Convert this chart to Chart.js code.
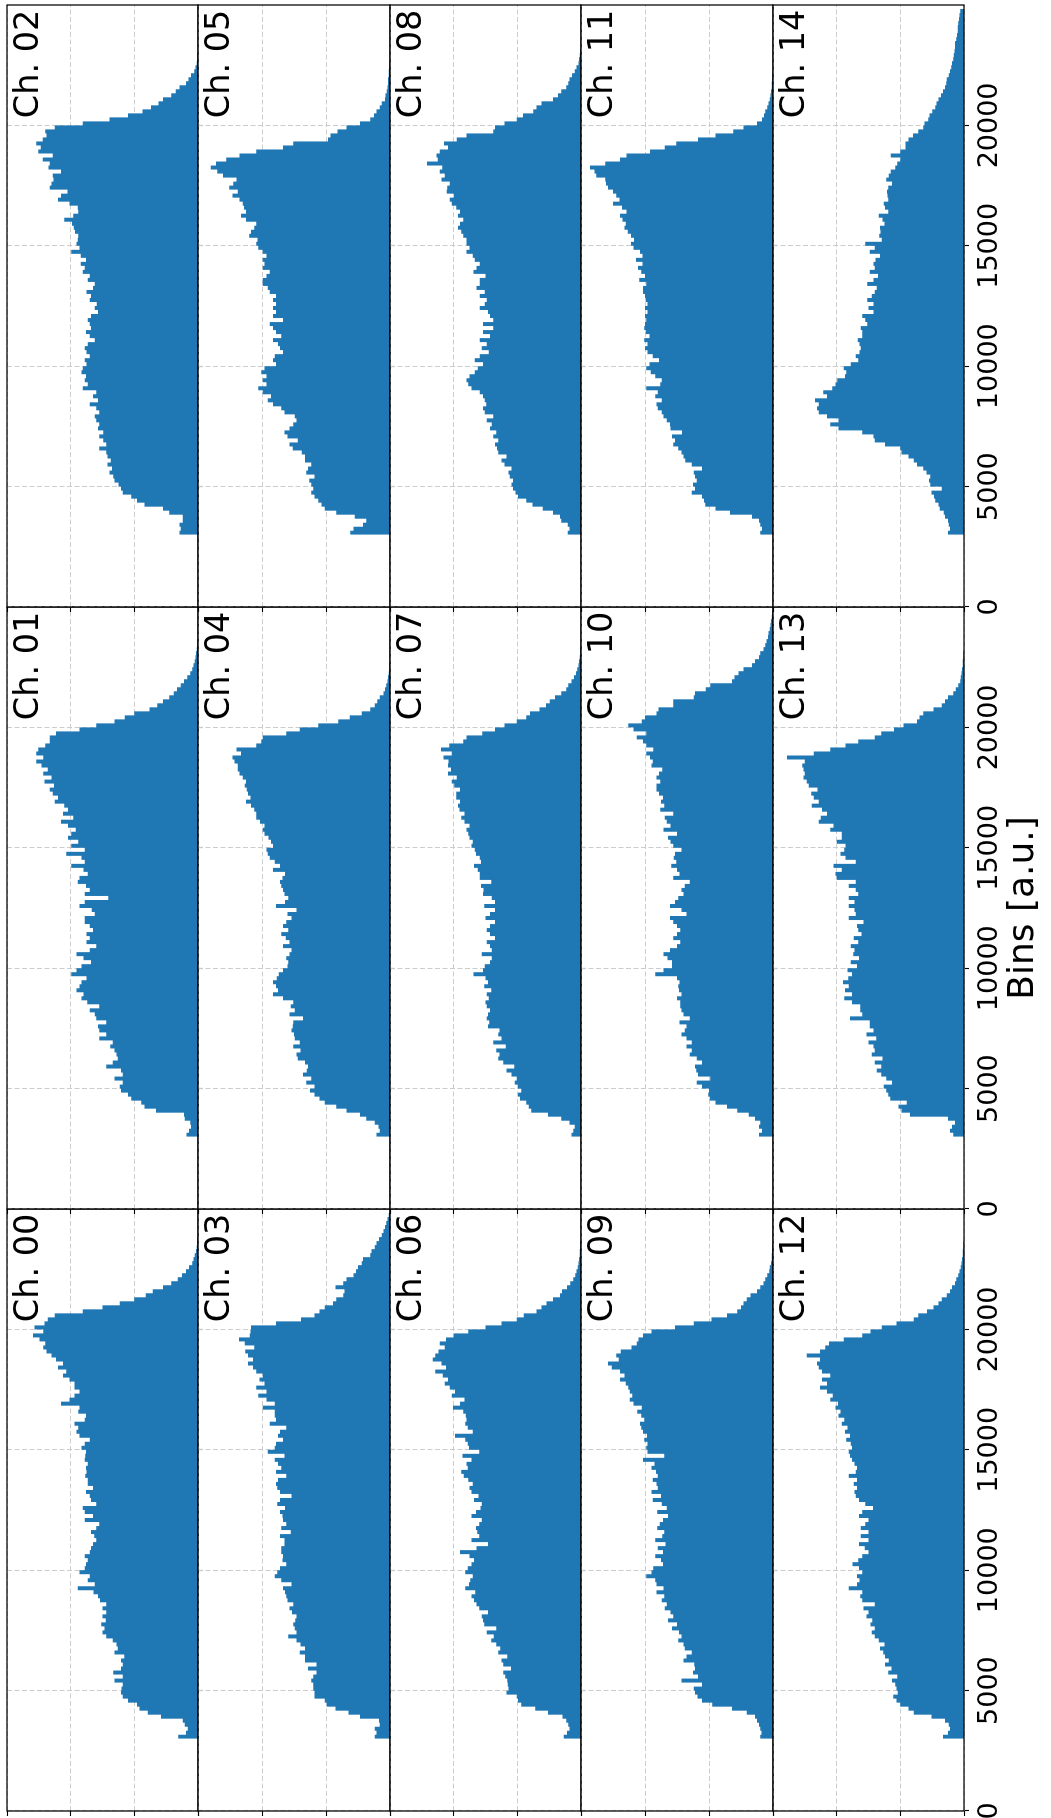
<!DOCTYPE html>
<html>
<head>
<meta charset="utf-8">
<script src="https://cdn.jsdelivr.net/npm/chart.js@4.4.1/dist/chart.umd.min.js"></script>
<style>
  html, body { margin: 0; padding: 0; background: #fff; overflow: hidden; }
  /* the figure is laid out landscape and turned a quarter turn counter-clockwise */
  #fig {
    position: absolute; left: 0; top: 0;
    width: 1818px; height: 1051px;
    transform-origin: 0 0;
    transform: translate(0, 1818px) rotate(-90deg);
  }
</style>
</head>
<body>
<div id="fig"></div>
<script>
// histogram bins: 150 bins over 0..25000, first filled bin starts at 3000
const binStart = 3000;
const binWidth = 25000 / 150;
const binTicks = [0, 5000, 10000, 15000, 20000];
const countTicks = [0, 100, 200, 300];

// counts per bin, one array per channel, starting at binStart
const ch00 = [27, 31, 19, 16, 21, 24, 58, 79, 92, 96, 110, 118,
  121, 120, 118, 131, 118, 133, 121, 118, 121, 116, 131, 126,
  128, 134, 144, 150, 147, 152, 145, 150, 144, 150, 144, 154,
  157, 164, 189, 162, 173, 170, 186, 178, 176, 173, 178, 170,
  168, 165, 160, 163, 168, 160, 155, 178, 165, 178, 181, 160,
  168, 170, 176, 165, 173, 173, 177, 175, 176, 173, 178, 177,
  176, 183, 178, 170, 186, 191, 188, 194, 178, 176, 188, 186,
  215, 202, 194, 186, 194, 194, 202, 212, 207, 220, 212, 223,
  230, 238, 243, 240, 249, 259, 243, 257, 241, 236, 225, 181,
  150, 123, 100, 82, 71, 55, 42, 32, 25, 19, 14, 9,
  7, 5, 3, 2, 1, 1, 0, 0, 0, 0, 0, 0];
const ch01 = [21, 18, 14, 11, 12, 21, 22, 66, 84, 89, 105, 110,
  121, 123, 118, 131, 118, 121, 144, 134, 126, 128, 131, 138,
  134, 155, 144, 155, 157, 144, 160, 162, 170, 155, 174, 183,
  180, 191, 186, 183, 175, 199, 191, 183, 168, 180, 191, 170,
  160, 175, 170, 175, 165, 170, 178, 178, 162, 167, 186, 178,
  141, 178, 170, 176, 189, 186, 173, 180, 199, 178, 183, 207,
  178, 199, 188, 204, 199, 192, 204, 215, 196, 212, 204, 210,
  225, 220, 228, 233, 226, 241, 230, 243, 236, 246, 254, 243,
  254, 251, 240, 233, 233, 223, 186, 160, 131, 115, 100, 76,
  64, 55, 45, 38, 33, 27, 22, 17, 12, 9, 7, 5,
  4, 3, 2, 1, 1, 0, 0, 0, 0, 0, 0, 0];
const ch02 = [32, 29, 27, 29, 24, 24, 45, 55, 84, 96, 105, 118,
  121, 125, 131, 133, 139, 135, 142, 137, 142, 144, 155, 144,
  149, 155, 149, 157, 155, 160, 162, 155, 160, 170, 157, 165,
  160, 181, 173, 178, 176, 183, 181, 175, 178, 170, 175, 178,
  173, 162, 170, 176, 168, 170, 173, 168, 157, 162, 159, 170,
  168, 175, 165, 162, 173, 170, 181, 178, 184, 176, 184, 199,
  186, 191, 189, 188, 193, 195, 198, 210, 196, 188, 189, 202,
  220, 215, 205, 233, 230, 227, 228, 215, 235, 233, 244, 228,
  251, 247, 254, 244, 238, 240, 225, 181, 139, 110, 87, 74,
  62, 55, 42, 35, 29, 19, 15, 11, 6, 4, 2, 1,
  1, 0, 0, 0, 0, 0, 0, 0, 0, 0, 0, 0];
const ch03 = [37, 24, 21, 24, 16, 17, 47, 65, 85, 99, 102, 118,
  118, 120, 120, 123, 120, 115, 128, 115, 133, 133, 141, 133,
  140, 146, 159, 146, 149, 151, 148, 146, 153, 157, 151, 160,
  162, 164, 167, 154, 170, 180, 176, 172, 162, 168, 167, 170,
  170, 165, 165, 172, 155, 170, 162, 167, 168, 172, 164, 176,
  172, 154, 172, 176, 178, 175, 162, 178, 170, 175, 180, 165,
  191, 180, 178, 167, 175, 172, 162, 188, 178, 180, 180, 199,
  180, 193, 206, 193, 209, 196, 204, 199, 209, 214, 222, 214,
  222, 226, 212, 227, 236, 219, 218, 217, 178, 139, 118, 110,
  102, 89, 84, 73, 71, 85, 73, 68, 57, 53, 50, 44,
  42, 31, 29, 24, 21, 17, 13, 10, 8, 6, 4, 2];
const ch04 = [29, 21, 16, 18, 24, 37, 47, 68, 84, 102, 110, 118,
  125, 118, 131, 123, 136, 130, 128, 133, 144, 146, 140, 151,
  141, 149, 150, 154, 152, 151, 136, 157, 149, 155, 151, 167,
  183, 175, 178, 183, 177, 174, 167, 160, 159, 162, 157, 154,
  167, 157, 163, 170, 159, 167, 162, 154, 160, 146, 178, 164,
  159, 165, 167, 170, 172, 168, 164, 183, 172, 180, 188, 191,
  193, 183, 186, 190, 196, 199, 196, 203, 209, 209, 212, 217,
  225, 218, 222, 224, 227, 225, 230, 235, 238, 238, 243, 246,
  233, 240, 209, 201, 199, 162, 141, 112, 81, 63, 44, 31,
  24, 20, 16, 10, 8, 6, 4, 3, 2, 1, 1, 0,
  0, 0, 0, 0, 0, 0, 0, 0, 0, 0, 0, 0];
const ch05 = [68, 62, 57, 42, 37, 55, 84, 102, 107, 112, 118, 123,
  120, 123, 126, 118, 131, 128, 123, 133, 133, 138, 152, 157,
  144, 160, 165, 157, 151, 146, 149, 165, 170, 183, 191, 186,
  199, 206, 193, 199, 193, 201, 196, 178, 183, 180, 167, 172,
  175, 183, 170, 178, 183, 188, 167, 183, 178, 183, 178, 183,
  178, 188, 191, 199, 199, 193, 188, 199, 196, 199, 193, 199,
  206, 209, 207, 220, 217, 212, 209, 225, 233, 225, 228, 230,
  235, 246, 238, 251, 245, 240, 261, 270, 280, 272, 256, 235,
  209, 167, 151, 97, 93, 82, 68, 47, 31, 25, 21, 16,
  13, 8, 7, 5, 4, 3, 3, 2, 2, 1, 1, 0,
  0, 0, 0, 0, 0, 0, 0, 0, 0, 0, 0, 0];
const ch06 = [29, 27, 22, 18, 20, 23, 29, 52, 72, 94, 99, 101,
  117, 114, 115, 116, 119, 122, 110, 122, 125, 116, 130, 127,
  133, 141, 137, 148, 133, 152, 154, 156, 146, 160, 164, 168,
  172, 166, 182, 176, 174, 170, 182, 178, 172, 168, 175, 190,
  164, 146, 172, 160, 163, 165, 160, 156, 172, 165, 158, 156,
  168, 161, 172, 175, 170, 177, 184, 188, 178, 180, 172, 186,
  160, 176, 178, 182, 198, 170, 178, 182, 180, 181, 185, 201,
  190, 183, 203, 198, 206, 214, 209, 217, 229, 212, 219, 233,
  229, 224, 214, 222, 212, 200, 177, 150, 125, 101, 90, 70,
  62, 54, 44, 33, 30, 22, 17, 12, 9, 7, 5, 4,
  3, 2, 2, 1, 1, 0, 0, 0, 0, 0, 0, 0];
const ch07 = [26, 15, 12, 10, 18, 31, 52, 78, 82, 86, 96, 99,
  94, 99, 104, 101, 109, 117, 105, 122, 130, 128, 133, 118,
  138, 125, 130, 128, 146, 144, 148, 146, 143, 148, 150, 145,
  148, 141, 152, 146, 150, 169, 154, 151, 143, 140, 156, 140,
  143, 148, 135, 143, 148, 143, 135, 150, 143, 135, 152, 135,
  140, 154, 153, 157, 141, 159, 159, 162, 168, 157, 159, 165,
  167, 172, 170, 175, 177, 180, 175, 183, 188, 183, 191, 193,
  190, 196, 196, 190, 199, 203, 195, 209, 204, 209, 208, 216,
  203, 220, 207, 185, 180, 155, 135, 120, 101, 86, 80, 65,
  55, 49, 41, 31, 23, 20, 15, 11, 8, 6, 4, 3,
  2, 1, 1, 0, 0, 0, 0, 0, 0, 0, 0, 0];
const ch08 = [23, 21, 18, 21, 31, 33, 44, 60, 76, 86, 99, 103,
  107, 109, 107, 112, 114, 109, 120, 125, 117, 130, 132, 135,
  130, 138, 133, 143, 140, 148, 138, 151, 154, 149, 151, 154,
  159, 172, 177, 180, 175, 167, 162, 154, 167, 159, 145, 156,
  148, 159, 143, 154, 138, 154, 138, 143, 146, 159, 151, 148,
  159, 151, 164, 159, 159, 150, 169, 164, 159, 167, 170, 180,
  175, 180, 180, 185, 188, 193, 190, 185, 193, 190, 196, 203,
  206, 200, 211, 210, 206, 219, 214, 222, 218, 242, 225, 227,
  222, 209, 215, 195, 180, 138, 135, 120, 101, 91, 75, 70,
  62, 44, 36, 31, 23, 20, 18, 14, 10, 7, 4, 3,
  2, 1, 0, 0, 0, 0, 0, 0, 0, 0, 0, 0];
const ch09 = [20, 20, 18, 20, 22, 25, 28, 41, 64, 95, 111, 118,
  122, 124, 111, 143, 117, 125, 122, 123, 140, 135, 127, 138,
  140, 148, 143, 147, 158, 150, 164, 156, 160, 169, 166, 174,
  170, 182, 171, 182, 184, 198, 190, 187, 172, 175, 184, 172,
  180, 168, 184, 173, 170, 181, 177, 172, 164, 181, 166, 174,
  188, 175, 190, 180, 182, 188, 180, 183, 190, 185, 203, 170,
  196, 198, 196, 201, 197, 203, 206, 208, 201, 206, 212, 205,
  218, 224, 220, 224, 226, 230, 239, 232, 239, 252, 258, 241,
  245, 238, 221, 213, 210, 203, 190, 153, 124, 96, 72, 56,
  50, 46, 41, 35, 25, 20, 15, 12, 9, 6, 5, 3,
  2, 2, 1, 1, 0, 0, 0, 0, 0, 0, 0, 0];
const ch10 = [33, 22, 17, 22, 20, 28, 38, 56, 72, 90, 99, 101,
  100, 111, 119, 98, 117, 120, 122, 111, 119, 130, 127, 135,
  127, 135, 143, 138, 135, 146, 130, 140, 143, 145, 145, 150,
  143, 147, 148, 146, 150, 184, 171, 158, 158, 165, 171, 161,
  150, 145, 156, 150, 145, 150, 156, 161, 135, 143, 161, 153,
  148, 140, 143, 138, 130, 156, 146, 150, 159, 151, 155, 153,
  143, 156, 160, 164, 150, 171, 160, 166, 169, 156, 176, 170,
  175, 172, 178, 182, 182, 176, 182, 178, 173, 190, 188, 192,
  198, 187, 198, 203, 213, 198, 218, 226, 205, 200, 182, 179,
  156, 156, 124, 122, 105, 98, 64, 60, 54, 46, 33, 28,
  22, 20, 15, 12, 10, 8, 7, 5, 4, 3, 2, 1];
const ch11 = [22, 20, 17, 20, 22, 33, 67, 90, 106, 108, 111, 127,
  122, 125, 119, 122, 124, 111, 127, 137, 140, 143, 148, 156,
  153, 158, 142, 160, 161, 166, 171, 174, 180, 182, 174, 184,
  180, 198, 176, 174, 184, 191, 198, 193, 178, 188, 196, 200,
  196, 201, 193, 199, 201, 200, 198, 200, 196, 200, 196, 199,
  200, 203, 203, 198, 209, 200, 206, 211, 204, 214, 204, 208,
  218, 222, 217, 222, 227, 232, 230, 235, 239, 229, 236, 250,
  240, 245, 250, 258, 261, 262, 276, 279, 286, 262, 239, 229,
  192, 169, 151, 117, 90, 62, 46, 25, 17, 14, 12, 9,
  7, 5, 4, 3, 2, 2, 1, 1, 0, 0, 0, 0,
  0, 0, 0, 0, 0, 0, 0, 0, 0, 0, 0, 0];
const ch12 = [35, 33, 25, 22, 24, 30, 51, 79, 87, 100, 106, 111,
  104, 106, 108, 113, 105, 119, 114, 124, 118, 124, 127, 132,
  125, 134, 140, 145, 140, 147, 144, 153, 150, 158, 140, 160,
  163, 160, 181, 168, 164, 168, 160, 165, 175, 166, 160, 150,
  156, 165, 150, 162, 150, 162, 155, 150, 165, 160, 143, 155,
  165, 170, 172, 168, 173, 168, 181, 170, 168, 172, 176, 179,
  181, 176, 178, 185, 179, 187, 183, 192, 188, 197, 194, 202,
  198, 210, 206, 215, 226, 215, 223, 210, 223, 228, 231, 226,
  247, 226, 218, 212, 189, 160, 147, 129, 106, 79, 72, 58,
  48, 40, 35, 27, 22, 19, 14, 12, 9, 7, 5, 4,
  3, 2, 2, 1, 1, 0, 0, 0, 0, 0, 0, 0];
const ch13 = [25, 17, 22, 19, 14, 25, 85, 98, 103, 90, 116, 119,
  122, 126, 113, 122, 130, 137, 130, 140, 128, 145, 140, 142,
  150, 138, 153, 142, 148, 148, 179, 160, 163, 163, 176, 188,
  176, 187, 181, 190, 182, 176, 183, 168, 178, 165, 174, 172,
  178, 166, 173, 161, 166, 168, 158, 181, 170, 172, 181, 172,
  181, 166, 170, 181, 170, 200, 202, 192, 205, 170, 186, 194,
  188, 186, 200, 192, 192, 210, 205, 228, 225, 215, 223, 239,
  228, 236, 240, 230, 244, 247, 252, 250, 252, 254, 250, 278,
  236, 210, 186, 166, 140, 130, 110, 95, 74, 70, 64, 48,
  35, 30, 25, 17, 13, 9, 6, 5, 4, 3, 2, 2,
  1, 1, 0, 0, 0, 0, 0, 0, 0, 0, 0, 0];
const ch14 = [32, 25, 22, 24, 25, 30, 32, 38, 40, 45, 47, 51,
  35, 53, 55, 53, 59, 64, 74, 79, 87, 98, 100, 124,
  140, 142, 160, 197, 210, 197, 215, 228, 231, 228, 234, 215,
  221, 207, 202, 199, 187, 185, 189, 178, 166, 170, 164, 162,
  164, 167, 160, 160, 162, 152, 155, 160, 142, 150, 142, 152,
  145, 140, 137, 152, 142, 135, 148, 140, 142, 139, 132, 148,
  140, 155, 129, 133, 131, 132, 125, 128, 134, 119, 124, 126,
  119, 120, 121, 119, 113, 122, 118, 115, 108, 105, 100, 115,
  100, 92, 92, 87, 80, 72, 64, 62, 56, 54, 50, 45,
  43, 40, 36, 33, 30, 28, 27, 24, 22, 20, 19, 17,
  16, 15, 14, 14, 12, 11, 10, 10, 9, 8, 7, 6];

const channels = [ch00, ch01, ch02, ch03, ch04, ch05, ch06, ch07,
  ch08, ch09, ch10, ch11, ch12, ch13, ch14];

// 5 x 3 grid of panels, no spacing between them
const colLeft = [7, 609, 1211];
const colWidth = 602;
const rowTop = [7, 198, 390, 581, 773, 964];
const PAD_L = 24, PAD_T = 2, PAD_R = 2;
const TICK = 5;
const BOTTOM_AXIS = 85;

Chart.defaults.font.family = "'DejaVu Sans', sans-serif";
Chart.defaults.color = '#000';
const gridColor = '#cccccc';
const blue = '#1f77b4';

// black box round each panel plus the channel name in the upper right
const panelFrame = {
  id: 'panelFrame',
  afterDraw(chart, args, opts) {
    const { ctx, chartArea: a } = chart;
    ctx.save();
    ctx.lineWidth = 1.25;
    ctx.strokeStyle = '#000';
    ctx.strokeRect(a.left, a.top, a.right - a.left, a.bottom - a.top);
    ctx.font = '33.5px "DejaVu Sans"';
    ctx.fillStyle = '#000';
    ctx.textAlign = 'right';
    ctx.textBaseline = 'alphabetic';
    ctx.fillText(opts.label, a.right - 4.6, a.top + 31.2);
    ctx.restore();
  }
};

const fig = document.getElementById('fig');

channels.forEach((counts, ch) => {
  const r = Math.floor(ch / 3);
  const c = ch % 3;
  const isBottom = r === 4;
  const h = rowTop[r + 1] - rowTop[r];
  const w = PAD_L + colWidth + PAD_R;
  const hh = PAD_T + h + (isBottom ? BOTTOM_AXIS : TICK);

  const canvas = document.createElement('canvas');
  canvas.width = w;
  canvas.height = hh;
  canvas.style.cssText = 'position:absolute;left:' + (colLeft[c] - PAD_L) + 'px;top:' +
    (rowTop[r] - PAD_T) + 'px;width:' + w + 'px;height:' + hh + 'px';
  fig.appendChild(canvas);

  // left edge of every bin, closed at the end of the last bin
  const points = counts.map((v, i) => ({ x: binStart + i * binWidth, y: v }));
  points.push({ x: binStart + counts.length * binWidth, y: 0 });

  const gridOpts = {
    color: gridColor,
    lineWidth: 1,
    drawTicks: true,
    tickLength: TICK,
    tickColor: '#000',
    tickWidth: 1.1,
  };

  new Chart(canvas, {
    type: 'line',
    data: {
      datasets: [{
        data: points,
        stepped: 'after',
        fill: 'origin',
        backgroundColor: blue,
        borderColor: 'rgba(0,0,0,0)',
        borderWidth: 0,
        pointRadius: 0,
      }],
    },
    options: {
      responsive: false,
      animation: false,
      devicePixelRatio: 1,
      events: [],
      layout: { padding: { left: PAD_L - TICK, top: PAD_T, right: PAD_R, bottom: 0 } },
      plugins: {
        legend: { display: false },
        tooltip: { enabled: false },
        panelFrame: { label: 'Ch. ' + String(ch).padStart(2, '0') },
      },
      scales: {
        x: {
          type: 'linear',
          min: 0,
          max: 25000,
          afterBuildTicks: (s) => { s.ticks = binTicks.map((v) => ({ value: v })); },
          ticks: {
            display: isBottom,
            font: { size: 27 },
            color: '#000',
            padding: 5,
            maxRotation: 0,
            autoSkip: false,
            callback: (v) => String(v),
          },
          grid: gridOpts,
          border: { display: false, dash: [5, 2.5] },
          title: {
            display: isBottom && c === 1,
            text: 'Bins [a.u.]',
            color: '#000',
            font: { size: 36 },
            padding: { top: 0, bottom: 4 },
          },
          afterFit: (s) => {
            s.height = isBottom ? BOTTOM_AXIS : TICK;
            s.paddingLeft = 0;
            s.paddingRight = 0;
          },
        },
        y: {
          type: 'linear',
          min: 0,
          max: 300,
          afterBuildTicks: (s) => { s.ticks = countTicks.map((v) => ({ value: v })); },
          ticks: { display: false },
          grid: gridOpts,
          border: { display: false, dash: [5, 2.5] },
          afterFit: (s) => { s.width = TICK; },
        },
      },
    },
    plugins: [panelFrame],
  });
});
</script>
</body>
</html>
